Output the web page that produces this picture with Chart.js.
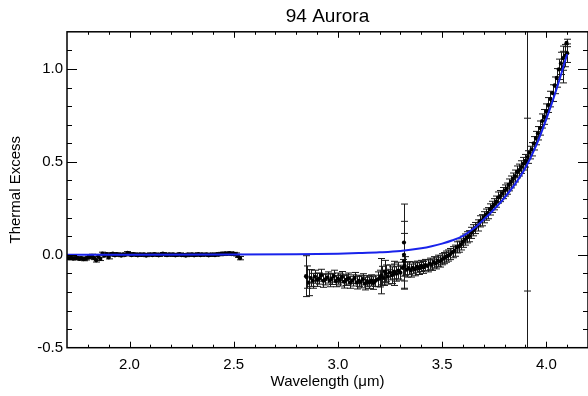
<!DOCTYPE html>
<html>
<head>
<meta charset="utf-8">
<script src="https://cdn.jsdelivr.net/npm/chart.js@4.4.1/dist/chart.umd.min.js"></script>
<style>
	html, body { margin: 0; padding: 0; background: #fff; overflow: hidden; }
	#wrap { position: relative; width: 592px; height: 396px; }
</style>
</head>
<body>
<div id="wrap"><canvas id="chart"></canvas></div>
<script>
// short-wavelength segment (um), thermal excess and 1-sigma errors
var shortWave = [
	1.70, 1.71, 1.72, 1.73, 1.74, 1.75, 1.76, 1.77, 1.78, 1.79,
	1.80, 1.81, 1.82, 1.83, 1.84, 1.85, 1.86, 1.87, 1.88, 1.89,
	1.90, 1.91, 1.92, 1.93, 1.94, 1.95, 1.96, 1.97, 1.98, 1.99,
	2.00, 2.01, 2.02, 2.03, 2.04, 2.05, 2.06, 2.07, 2.08, 2.09,
	2.10, 2.11, 2.12, 2.13, 2.14, 2.15, 2.16, 2.17, 2.18, 2.19,
	2.20, 2.21, 2.22, 2.23, 2.24, 2.25, 2.26, 2.27, 2.28, 2.29,
	2.30, 2.31, 2.32, 2.33, 2.34, 2.35, 2.36, 2.37, 2.38, 2.39,
	2.40, 2.41, 2.42, 2.43, 2.44, 2.45, 2.46, 2.47, 2.48, 2.49,
	2.50, 2.51, 2.52, 2.53
];
var shortExcess = [
	-0.018, -0.020, -0.017, -0.021, -0.019, -0.016, -0.022, -0.018, -0.024, -0.021,
	-0.015, -0.012, -0.006, -0.018, -0.030, -0.008, -0.022, 0.006, -0.004, 0.004,
	-0.014, 0.002, 0.006, -0.003, 0.004, 0.001, -0.004, 0.003, 0.000, 0.010,
	0.006, -0.002, 0.004, 0.001, -0.003, 0.003, -0.001, 0.002, -0.004, 0.001,
	0.003, -0.002, 0.004, 0.000, -0.003, 0.002, 0.006, 0.001, -0.002, 0.003,
	0.000, 0.002, -0.003, 0.001, 0.004, -0.002, 0.000, -0.004, 0.002, -0.001,
	0.003, -0.003, 0.001, 0.004, -0.002, 0.002, 0.000, 0.003, -0.003, 0.001,
	0.002, -0.002, 0.004, 0.001, 0.006, 0.003, 0.008, 0.005, 0.009, 0.004,
	0.006, 0.002, -0.006, -0.018
];
var shortErr = [
	0.007, 0.006, 0.007, 0.006, 0.007, 0.006, 0.007, 0.006, 0.008, 0.007,
	0.007, 0.008, 0.009, 0.008, 0.009, 0.010, 0.009, 0.008, 0.007, 0.007,
	0.008, 0.006, 0.006, 0.006, 0.006, 0.006, 0.006, 0.006, 0.006, 0.007,
	0.006, 0.006, 0.006, 0.006, 0.006, 0.006, 0.006, 0.006, 0.006, 0.006,
	0.006, 0.006, 0.006, 0.006, 0.006, 0.006, 0.006, 0.006, 0.006, 0.006,
	0.006, 0.006, 0.006, 0.006, 0.006, 0.006, 0.006, 0.006, 0.006, 0.006,
	0.006, 0.006, 0.006, 0.006, 0.006, 0.006, 0.006, 0.006, 0.006, 0.006,
	0.006, 0.006, 0.006, 0.006, 0.007, 0.007, 0.007, 0.007, 0.007, 0.007,
	0.007, 0.008, 0.008, 0.009
];

// long-wavelength segment
var longWave = [
	2.85, 2.86, 2.87, 2.88, 2.89, 2.90, 2.91, 2.92, 2.93, 2.94,
	2.95, 2.96, 2.97, 2.98, 2.99, 3.00, 3.01, 3.02, 3.03, 3.04,
	3.05, 3.06, 3.07, 3.08, 3.09, 3.10, 3.11, 3.12, 3.13, 3.14,
	3.15, 3.16, 3.17, 3.18, 3.19, 3.20, 3.21, 3.22, 3.23, 3.24,
	3.25, 3.26, 3.27, 3.28, 3.29, 3.30, 3.31, 3.32, 3.33, 3.34,
	3.35, 3.36, 3.37, 3.38, 3.39, 3.40, 3.41, 3.42, 3.43, 3.44,
	3.45, 3.46, 3.47, 3.48, 3.49, 3.50, 3.51, 3.52, 3.53, 3.54,
	3.55, 3.56, 3.57, 3.58, 3.59, 3.60, 3.61, 3.62, 3.63, 3.64,
	3.65, 3.66, 3.67, 3.68, 3.69, 3.70, 3.71, 3.72, 3.73, 3.74,
	3.75, 3.76, 3.77, 3.78, 3.79, 3.80, 3.81, 3.82, 3.83, 3.84,
	3.85, 3.86, 3.87, 3.88, 3.89, 3.90, 3.91, 3.92, 3.93, 3.94,
	3.95, 3.96, 3.97, 3.98, 3.99, 4.00, 4.01, 4.02, 4.03, 4.04,
	4.05, 4.06, 4.07, 4.08, 4.09, 4.10
];
var longExcess = [
	-0.120, -0.150, -0.125, -0.140, -0.118, -0.135, -0.128, -0.110, -0.140, -0.132,
	-0.122, -0.138, -0.130, -0.115, -0.142, -0.128, -0.136, -0.120, -0.145, -0.135,
	-0.128, -0.148, -0.138, -0.125, -0.150, -0.140, -0.146, -0.132, -0.155, -0.142,
	-0.150, -0.138, -0.152, -0.140, -0.132, -0.128, -0.112, -0.125, -0.100, -0.118,
	-0.095, -0.110, -0.090, -0.102, -0.085, -0.096, -0.070, -0.060, -0.080, -0.072,
	-0.085, -0.070, -0.078, -0.064, -0.074, -0.060, -0.068, -0.055, -0.060, -0.048,
	-0.054, -0.040, -0.046, -0.032, -0.036, -0.024, -0.018, -0.010, -0.004, 0.004,
	0.014, 0.022, 0.040, 0.044, 0.056, 0.070, 0.082, 0.094, 0.100, 0.118,
	0.132, 0.144, 0.158, 0.180, 0.186, 0.202, 0.216, 0.224, 0.244, 0.258,
	0.272, 0.286, 0.308, 0.316, 0.332, 0.346, 0.356, 0.376, 0.392, 0.408,
	0.424, 0.446, 0.456, 0.472, 0.490, 0.506, 0.526, 0.550, 0.568, 0.600,
	0.628, 0.654, 0.682, 0.720, 0.742, 0.772, 0.806, 0.838, 0.870, 0.912,
	0.952, 0.998, 1.030, 1.058, 1.072, 1.085
];
var longErr = [
	0.060, 0.070, 0.045, 0.040, 0.035, 0.035, 0.030, 0.032, 0.035, 0.030,
	0.030, 0.034, 0.030, 0.032, 0.030, 0.030, 0.032, 0.030, 0.034, 0.030,
	0.030, 0.032, 0.030, 0.030, 0.034, 0.030, 0.032, 0.030, 0.034, 0.030,
	0.032, 0.030, 0.034, 0.030, 0.040, 0.045, 0.050, 0.040, 0.045, 0.040,
	0.040, 0.045, 0.040, 0.040, 0.045, 0.040, 0.045, 0.050, 0.040, 0.035,
	0.035, 0.032, 0.035, 0.030, 0.032, 0.030, 0.032, 0.030, 0.032, 0.030,
	0.030, 0.030, 0.030, 0.030, 0.030, 0.030, 0.030, 0.030, 0.030, 0.030,
	0.030, 0.030, 0.030, 0.030, 0.030, 0.030, 0.030, 0.030, 0.030, 0.030,
	0.030, 0.030, 0.030, 0.030, 0.030, 0.030, 0.030, 0.030, 0.030, 0.030,
	0.030, 0.030, 0.030, 0.030, 0.030, 0.030, 0.030, 0.032, 0.032, 0.032,
	0.032, 0.032, 0.032, 0.034, 0.034, 0.034, 0.034, 0.034, 0.036, 0.036,
	0.036, 0.036, 0.038, 0.038, 0.040, 0.040, 0.040, 0.042, 0.045, 0.045,
	0.050, 0.055, 0.060, 0.065, 0.060, 0.050
];

// noisy channels with large error bars
var outlierWave = [2.847, 3.206, 3.225, 3.270, 3.317, 3.317, 3.317, 3.907, 3.907, 4.080, 4.097];
var outlierExcess = [-0.115, -0.115, -0.090, -0.100, 0.066, 0.000, -0.035, 0.270, 0.500, 1.010, 1.140];
var outlierErr = [0.110, 0.095, 0.060, 0.065, 0.207, 0.180, 0.150, 0.465, 1.000, 0.085, 0.020];
var outlierMarker = [1, 1, 1, 1, 1, 1, 1, 0, 1, 1, 1];

// thermal model
var modelWave = [1.70, 2.00, 2.50, 2.80, 3.00, 3.10, 3.20, 3.30, 3.40, 3.45, 3.50, 3.55, 3.60, 3.65, 3.70, 3.75, 3.80, 3.85, 3.90, 3.95, 4.00, 4.05, 4.10];
var modelExcess = [0.000, 0.000, 0.001, 0.003, 0.006, 0.009, 0.013, 0.020, 0.035, 0.046, 0.060, 0.078, 0.102, 0.140, 0.190, 0.245, 0.308, 0.380, 0.468, 0.585, 0.730, 0.895, 1.080];

var xTickValues = [2.0, 2.5, 3.0, 3.5, 4.0];
var yTickValues = [-0.5, 0.0, 0.5, 1.0];

var fontFamily = "'Liberation Sans', Arial, Helvetica, sans-serif";
var markerRadius = 2.1;

function toPoints(xs, ys) {
	return xs.map(function(x, i) { return {x: x, y: ys[i]}; });
}

function isMajor(v) {
	return Math.abs(v * 2 - Math.round(v * 2)) < 1e-6;
}

// error bars under the markers, clipped to the plot box
function drawErrorBars(chart) {
	var ctx = chart.ctx, xs = chart.scales.x, ys = chart.scales.y, a = chart.chartArea;
	ctx.save();
	ctx.beginPath();
	ctx.rect(a.left, a.top, a.right - a.left, a.bottom - a.top);
	ctx.clip();
	ctx.strokeStyle = '#1a1a1a';
	ctx.lineWidth = 1;
	chart.data.datasets.forEach(function(ds) {
		if (!ds.errors) return;
		ds.data.forEach(function(p, i) {
			var err = ds.errors[i];
			var x = Math.round(xs.getPixelForValue(p.x)) + 0.5;
			var lo = ys.getPixelForValue(p.y - err);
			var hi = ys.getPixelForValue(p.y + err);
			ctx.beginPath();
			ctx.moveTo(x, lo); ctx.lineTo(x, hi);
			ctx.moveTo(x - 3.5, lo); ctx.lineTo(x + 3.5, lo);
			ctx.moveTo(x - 3.5, hi); ctx.lineTo(x + 3.5, hi);
			ctx.stroke();
		});
	});
	ctx.restore();
}

// box frame with inward ticks on all four sides
function drawFrame(chart) {
	var ctx = chart.ctx, xs = chart.scales.x, ys = chart.scales.y, a = chart.chartArea;
	var v, p, len;
	ctx.save();
	ctx.strokeStyle = '#000';
	ctx.lineWidth = 1.5;
	ctx.strokeRect(a.left, a.top, a.right - a.left, a.bottom - a.top);
	ctx.lineWidth = 1;
	ctx.beginPath();
	for (v = 18; v <= 41; v++) {
		p = Math.round(xs.getPixelForValue(v / 10)) + 0.5;
		len = isMajor(v / 10) ? 6 : 3;
		ctx.moveTo(p, a.bottom); ctx.lineTo(p, a.bottom - len);
		ctx.moveTo(p, a.top); ctx.lineTo(p, a.top + len);
	}
	for (v = -4; v <= 11; v++) {
		p = Math.round(ys.getPixelForValue(v / 10)) + 0.5;
		len = isMajor(v / 10) ? 10 : 5;
		ctx.moveTo(a.left, p); ctx.lineTo(a.left + len, p);
		ctx.moveTo(a.right, p); ctx.lineTo(a.right - len, p);
	}
	ctx.stroke();
	ctx.restore();
}

var framePlugin = {
	id: 'frame',
	beforeDatasetsDraw: drawErrorBars,
	afterDraw: drawFrame
};

var markerStyle = {
	pointRadius: markerRadius,
	pointBackgroundColor: '#000',
	pointBorderWidth: 0,
	showLine: false
};

var ctx = document.getElementById('chart').getContext('2d');
var chart = new Chart(ctx, {
	type: 'scatter',
	data: {
		datasets: [
			{
				label: 'model',
				data: toPoints(modelWave, modelExcess),
				showLine: true,
				borderColor: 'rgb(25, 35, 235)',
				borderWidth: 2,
				pointRadius: 0,
				cubicInterpolationMode: 'monotone'
			},
			Object.assign({}, markerStyle, {label: 'short', data: toPoints(shortWave, shortExcess), errors: shortErr}),
			Object.assign({}, markerStyle, {label: 'long', data: toPoints(longWave, longExcess), errors: longErr}),
			Object.assign({}, markerStyle, {
				label: 'outliers',
				data: toPoints(outlierWave, outlierExcess),
				errors: outlierErr,
				pointRadius: outlierMarker.map(function(m) { return m * markerRadius; })
			})
		]
	},
	options: {
		responsive: true,
		maintainAspectRatio: false,
		animation: false,
		layout: {padding: {left: 0, right: 2.5, top: 0, bottom: 0}},
		plugins: {
			legend: {display: false},
			tooltip: {enabled: false},
			title: {
				display: true,
				fullSize: false,
				text: '94 Aurora',
				color: '#000',
				font: {family: fontFamily, size: 19, weight: 'normal'},
				padding: {top: 5, bottom: 4}
			}
		},
		scales: {
			x: {
				type: 'linear',
				min: 1.7,
				max: 4.2,
				afterBuildTicks: function(scale) {
					scale.ticks = xTickValues.map(function(v) { return {value: v}; });
				},
				afterFit: function(scale) { scale.height = 48.3; },
				grid: {display: false, drawTicks: false},
				border: {display: false},
				ticks: {
					padding: 8,
					color: '#000',
					maxRotation: 0,
					font: {family: fontFamily, size: 15},
					callback: function(v) { return v.toFixed(1); }
				},
				title: {
					display: true,
					text: 'Wavelength (\u03bcm)',
					color: '#000',
					font: {family: fontFamily, size: 15},
					padding: {top: 0, bottom: 5}
				}
			},
			y: {
				type: 'linear',
				min: -0.5,
				max: 1.2,
				afterBuildTicks: function(scale) {
					scale.ticks = yTickValues.map(function(v) { return {value: v}; });
				},
				afterFit: function(scale) { scale.width = 67; },
				grid: {display: false, drawTicks: false},
				border: {display: false},
				ticks: {
					padding: 4,
					color: '#000',
					font: {family: fontFamily, size: 15},
					callback: function(v) { return v.toFixed(1); }
				},
				title: {
					display: true,
					text: 'Thermal Excess',
					color: '#000',
					font: {family: fontFamily, size: 15},
					padding: {top: 7, bottom: 0}
				}
			}
		}
	},
	plugins: [framePlugin]
});
</script>
</body>
</html>
